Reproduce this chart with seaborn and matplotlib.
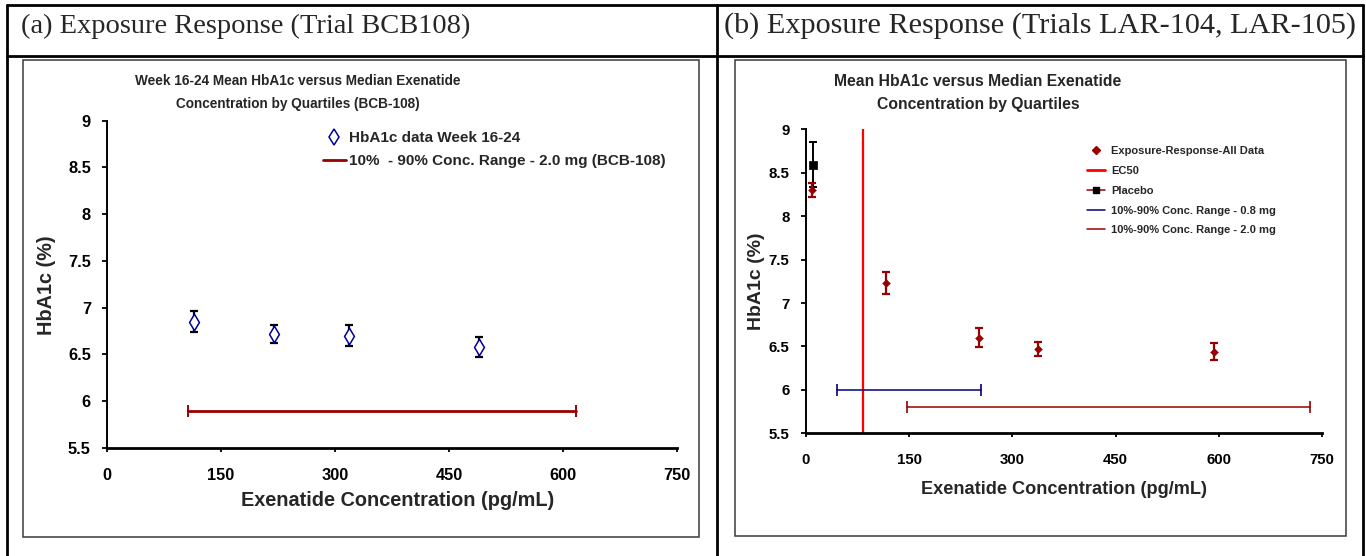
import matplotlib
matplotlib.use("Agg")
import matplotlib.pyplot as plt
from matplotlib.lines import Line2D
from matplotlib.patches import Rectangle
from matplotlib import font_manager
import seaborn as sns

# (a) trial BCB-108: quartile medians and mean HbA1c
bcb_conc = [115, 220, 318, 489]
bcb_hba1c = [6.85, 6.72, 6.70, 6.58]
bcb_err = [0.11, 0.10, 0.11, 0.11]
bcb_range = [106, 617]
bcb_range_y = [5.9, 5.9]

# (b) trials LAR-104, LAR-105
lar_conc = [9.6, 117, 251, 337, 593]
lar_hba1c = [8.30, 7.23, 6.60, 6.47, 6.44]
lar_err = [0.085, 0.125, 0.11, 0.085, 0.10]
placebo_conc = [11]
placebo_hba1c = [8.59]
placebo_err = [0.26]
ec50 = 82.5
range_08 = [46, 255]
range_08_y = [6.0, 6.0]
range_20 = [147, 732]
range_20_y = [5.8, 5.8]

xticks = [0, 150, 300, 450, 600, 750]
yticks = [5.5, 6, 6.5, 7, 7.5, 8, 8.5, 9]
ytick_labels = ["5.5", "6", "6.5", "7", "7.5", "8", "8.5", "9"]

header_a = "(a) Exposure Response (Trial BCB108)"
header_b = "(b) Exposure Response (Trials LAR-104, LAR-105)"
title_a = ["Week 16-24 Mean HbA1c versus Median Exenatide", "Concentration by Quartiles (BCB-108)"]
title_b = ["Mean HbA1c versus Median Exenatide", "Concentration by Quartiles"]
xlab = "Exenatide Concentration (pg/mL)"
ylab = "HbA1c (%)"

DARKRED = "#990000"
NAVY = "#000080"

sns.set_style("white")
plt.rcParams["font.family"] = ["Liberation Sans", "DejaVu Sans"]
plt.rcParams["font.weight"] = "bold"

# titles in the original use a narrow face
names = {f.name for f in font_manager.fontManager.ttflist}
if "Liberation Sans Narrow" in names:
    title_font, ta_size, tb_size = "Liberation Sans Narrow", 11.7, 13.8
else:
    title_font, ta_size, tb_size = "Liberation Sans", 9.8, 11.3

W, H = 1366, 556
fig = plt.figure(figsize=(W / 100, H / 100), dpi=100)

# background layer in pixel coordinates for the table frame and texts
bg = fig.add_axes([0, 0, 1, 1], zorder=-1)
bg.set_xlim(0, W)
bg.set_ylim(H, 0)
bg.axis("off")

lw_tab = 2.0
bg.plot([7, 1363], [4.5, 4.5], color="black", lw=lw_tab)
bg.plot([7, 1363], [55.7, 55.7], color="black", lw=lw_tab)
for xv in [7, 717, 1363]:
    bg.plot([xv, xv], [4.5, 560], color="black", lw=lw_tab)
bg.add_patch(Rectangle((23, 60), 676, 477, fill=False, ec="#3a3a3a", lw=1.1))
bg.add_patch(Rectangle((735, 60), 611, 475.7, fill=False, ec="#3a3a3a", lw=1.1))

bg.text(21, 33, header_a, family="Liberation Serif", fontweight="normal", fontsize=20.5, va="baseline")
bg.text(724, 33, header_b, family="Liberation Serif", fontweight="normal", fontsize=21.8, va="baseline")

for i, line in enumerate(title_a):
    bg.text(298, 85 + 23 * i, line, family=title_font, fontsize=ta_size,
            fontweight="bold", ha="center", va="baseline")
for i, line in enumerate(title_b):
    bg.text(978, 86 + 23 * i, line, family=title_font, fontsize=tb_size,
            fontweight="bold", ha="center", va="baseline")

ax1 = fig.add_axes([107 / W, 1 - 448 / H, 570 / W, (448 - 120.7) / H])
ax2 = fig.add_axes([805.7 / W, 1 - 433.3 / H, 516.6 / W, 304 / H])

# ---- panel (a)
sns.lineplot(x=bcb_range, y=bcb_range_y, ax=ax1, color=DARKRED, lw=2,
             marker="|", markersize=9, markeredgewidth=1.4,
             markeredgecolor=DARKRED, legend=False)
ax1.errorbar(bcb_conc, bcb_hba1c, yerr=bcb_err, fmt="none", ecolor="black",
             elinewidth=1.6, capsize=3, capthick=1.6, zorder=2)
sns.scatterplot(x=bcb_conc, y=bcb_hba1c, ax=ax1, marker="d", s=70,
                facecolor="white", edgecolor="#000099", linewidth=1.1, zorder=3, legend=False)

# ---- panel (b)
ax2.axvline(ec50, color="red", lw=1.6, zorder=1)
sns.lineplot(x=range_08, y=range_08_y, ax=ax2, color=NAVY, lw=1.1,
             marker="|", markersize=8, markeredgewidth=1.2,
             markeredgecolor=NAVY, legend=False)
sns.lineplot(x=range_20, y=range_20_y, ax=ax2, color=DARKRED, lw=1.1,
             marker="|", markersize=8, markeredgewidth=1.2,
             markeredgecolor=DARKRED, legend=False)
ax2.errorbar(placebo_conc, placebo_hba1c, yerr=placebo_err, fmt="none", ecolor="black",
             elinewidth=1.4, capsize=3, capthick=1.4, zorder=2)
sns.scatterplot(x=placebo_conc, y=placebo_hba1c, ax=ax2, marker="s", s=40,
                color="black", edgecolor="black", zorder=3, legend=False)
ax2.errorbar(lar_conc, lar_hba1c, yerr=lar_err, fmt="none", ecolor=DARKRED,
             elinewidth=1.6, capsize=3, capthick=1.6, zorder=4)
sns.scatterplot(x=lar_conc, y=lar_hba1c, ax=ax2, marker="D", s=16,
                color=DARKRED, edgecolor=DARKRED, zorder=5, legend=False)

for ax, tsize in [(ax1, 11.8), (ax2, 10.8)]:
    ax.set_xlim(0, 750)
    ax.set_ylim(5.5, 9)
    ax.set_xticks(xticks)
    ax.set_yticks(yticks)
    ax.set_yticklabels(ytick_labels)
    ax.set_facecolor("none")
    sns.despine(ax=ax)
    ax.spines["left"].set_linewidth(1.4)
    ax.spines["bottom"].set_linewidth(2.0)
    ax.spines["left"].set_color("black")
    ax.spines["bottom"].set_color("black")
    ax.tick_params(axis="y", direction="out", length=3.6, width=1.3, pad=8,
                   labelsize=tsize, left=True, colors="black")
    ax.tick_params(axis="x", direction="out", length=3.2, width=1.3, pad=11,
                   labelsize=tsize, bottom=True, colors="black")
    for lab in ax.get_xticklabels() + ax.get_yticklabels():
        lab.set_fontweight("bold")

ax1.set_xlabel(xlab, fontsize=14.3, fontweight="bold")
ax1.set_ylabel(ylab, fontsize=14.3, fontweight="bold")
ax1.xaxis.set_label_coords(0.509, -0.131)
ax1.yaxis.set_label_coords(-0.0895, 0.498)
ax2.set_xlabel(xlab, fontsize=13.1, fontweight="bold")
ax2.set_ylabel(ylab, fontsize=14, fontweight="bold")
ax2.xaxis.set_label_coords(0.5, -0.157)
ax2.yaxis.set_label_coords(-0.0788, 0.499)

# ---- legends
leg_a = [
    Line2D([], [], ls="none", marker="d", ms=8, mfc="white", mec="#000099", mew=1.1),
    Line2D([], [], color=DARKRED, lw=2),
]
fig.legend(leg_a, ["HbA1c data Week 16-24", "10%  - 90% Conc. Range - 2.0 mg (BCB-108)"],
           loc="upper left", bbox_to_anchor=(323 / W, 1 - 131 / H), frameon=False,
           borderpad=0, borderaxespad=0, handlelength=1.48,
           handletextpad=0.22, labelspacing=0.59, prop={"weight": "bold", "size": 11})

leg_b = [
    Line2D([], [], ls="none", marker="D", ms=4, color=DARKRED),
    Line2D([], [], color="red", lw=2),
    Line2D([], [], color=DARKRED, lw=1.1, marker="s", ms=5, mfc="black", mec="black"),
    Line2D([], [], color=NAVY, lw=1.1),
    Line2D([], [], color=DARKRED, lw=1.1),
]
fig.legend(leg_b, ["Exposure-Response-All Data", "EC50", "Placebo",
                   "10%-90% Conc. Range - 0.8 mg", "10%-90% Conc. Range - 2.0 mg"],
           loc="upper left", bbox_to_anchor=(1086.7 / W, 1 - 146.2 / H), frameon=False,
           borderpad=0, borderaxespad=0, handlelength=1.65, handletextpad=0.54,
           labelspacing=0.88, prop={"weight": "bold", "size": 8})

fig.savefig("out.png", dpi=100)
